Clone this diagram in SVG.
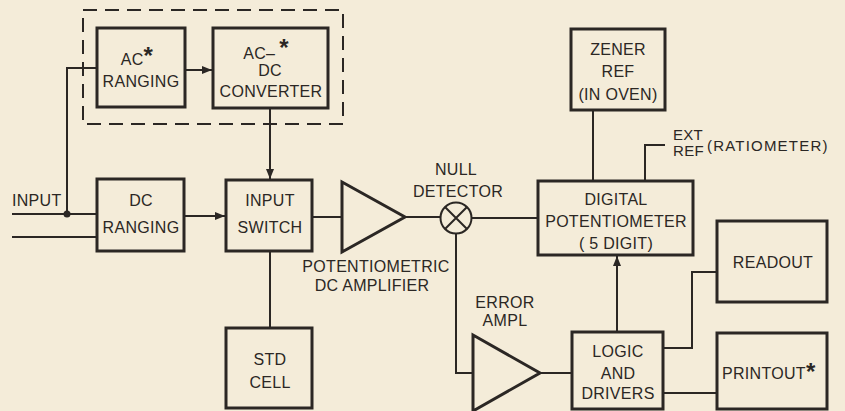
<svg xmlns="http://www.w3.org/2000/svg" width="845" height="411" viewBox="0 0 845 411">
<defs>
<style>
.box{fill:none;stroke:#2b2724;stroke-width:3}
.ln{fill:none;stroke:#2b2724;stroke-width:2}
.dash{fill:none;stroke:#2b2724;stroke-width:2;stroke-dasharray:14 8}
text{font-family:"Liberation Sans",Arial,sans-serif;font-size:16px;fill:#2b2724;letter-spacing:0.3px}
.c{text-anchor:middle}
.ast{font-size:24px;font-weight:bold}
</style>
<marker id="arr" viewBox="0 0 10 10" refX="10" refY="5" markerWidth="5" markerHeight="5" orient="auto" markerUnits="strokeWidth">
<path d="M0,1 L10,5 L0,9 z" fill="#2b2724"/>
</marker>
</defs>
<rect width="845" height="411" fill="#f4ecd9"/>

<g id="connectors">
<path class="ln" d="M12,214 H97"/>
<path class="ln" d="M12,237 H97"/>
<path class="ln" d="M67,214 V68 H97"/>
<circle cx="67" cy="214" r="3.5" fill="#2b2724"/>
<path class="ln" d="M185,70 H212" marker-end="url(#arr)"/>
<path class="ln" d="M270,108 V179" marker-end="url(#arr)"/>
<path class="ln" d="M184,216 H225" marker-end="url(#arr)"/>
<path class="ln" d="M312,217 H342"/>
<path class="ln" d="M405,217 H440"/>
<path class="ln" d="M471,218 H538"/>
<path class="ln" d="M270,251 V328"/>
<path class="ln" d="M593,110 V181"/>
<path class="ln" d="M645,181 V145 H665"/>
<path class="ln" d="M456,234 V373 H473"/>
<path class="ln" d="M540,373 H572"/>
<path class="ln" d="M617,332 V256" marker-end="url(#arr)"/>
<path class="ln" d="M663,348 H692 V272 H717"/>
<path class="ln" d="M663,393 H717"/>
</g>

<g id="ac-section">
<rect class="dash" x="83" y="10" width="260" height="114"/>
</g>

<g id="ac-ranging">
<rect class="box" x="97" y="28" width="88" height="79"/>
<text x="137" y="65" class="c">AC<tspan class="ast" dy="-1">*</tspan></text>
<text x="141" y="87" class="c">RANGING</text>
</g>

<g id="ac-dc-converter">
<rect class="box" x="213" y="28" width="115" height="80"/>
<text x="266" y="59" class="c">AC–<tspan class="ast" dx="4" dy="-3">*</tspan></text>
<text x="270" y="76" class="c">DC</text>
<text x="271" y="97" class="c">CONVERTER</text>
</g>

<g id="input-label">
<text x="12" y="206">INPUT</text>
</g>

<g id="dc-ranging">
<rect class="box" x="97" y="179" width="87" height="72"/>
<text x="141" y="206" class="c">DC</text>
<text x="141" y="233" class="c">RANGING</text>
</g>

<g id="input-switch">
<rect class="box" x="226" y="180" width="86" height="71"/>
<text x="270" y="206" class="c">INPUT</text>
<text x="270" y="233" class="c">SWITCH</text>
</g>

<g id="dc-amplifier">
<path class="box" d="M342,182 L405,217 L342,252 Z"/>
<text x="376" y="272" class="c">POTENTIOMETRIC</text>
<text x="372" y="291" class="c">DC AMPLIFIER</text>
</g>

<g id="std-cell">
<rect class="box" x="226" y="328" width="86" height="80"/>
<text x="270" y="365" class="c">STD</text>
<text x="270" y="388" class="c">CELL</text>
</g>

<g id="null-detector">
<circle class="ln" cx="456" cy="218" r="15.5"/>
<path class="ln" d="M445,207 L467,229 M467,207 L445,229"/>
<text x="456" y="175" class="c">NULL</text>
<text x="458" y="197" class="c">DETECTOR</text>
</g>

<g id="zener-ref">
<rect class="box" x="571" y="29" width="94" height="81"/>
<text x="618" y="55" class="c">ZENER</text>
<text x="618" y="77" class="c">REF</text>
<text x="618" y="100" class="c">(IN OVEN)</text>
</g>

<g id="ext-ref">
<text x="673" y="140" style="font-size:15px">EXT</text>
<text x="673" y="156" style="font-size:15px">REF</text>
<text x="707" y="151" style="font-size:15px;letter-spacing:1.2px">(RATIOMETER)</text>
</g>

<g id="digital-potentiometer">
<rect class="box" x="538" y="181" width="155" height="74"/>
<text x="616" y="205" class="c">DIGITAL</text>
<text x="616" y="227" class="c">POTENTIOMETER</text>
<text x="616" y="249" class="c">( 5 DIGIT)</text>
</g>

<g id="readout">
<rect class="box" x="717" y="221" width="110" height="81"/>
<text x="773" y="268" class="c">READOUT</text>
</g>

<g id="error-ampl">
<path class="box" d="M473,335 L540,373 L473,411 Z"/>
<text x="505" y="308" class="c">ERROR</text>
<text x="505" y="326" class="c">AMPL</text>
</g>

<g id="logic-drivers">
<rect class="box" x="572" y="332" width="91" height="77"/>
<text x="618" y="357" class="c">LOGIC</text>
<text x="618" y="379" class="c">AND</text>
<text x="618" y="399" class="c">DRIVERS</text>
</g>

<g id="printout">
<rect class="box" x="717" y="333" width="110" height="76"/>
<text x="722" y="379">PRINTOUT<tspan class="ast" dy="1">*</tspan></text>
</g>
</svg>
